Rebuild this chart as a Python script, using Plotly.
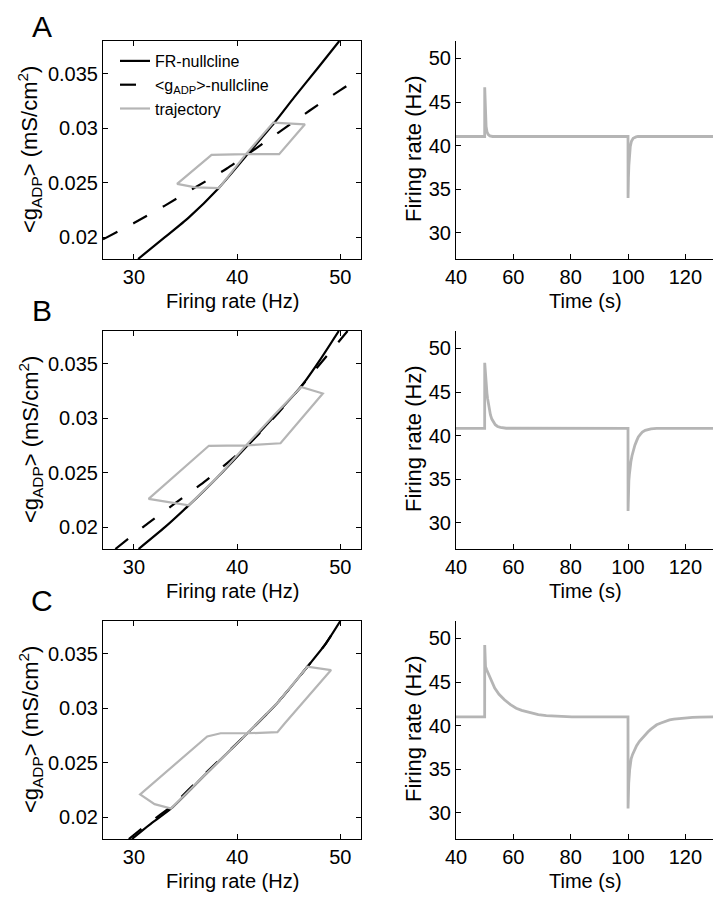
import plotly.graph_objects as go

# ---------------- data ----------------
# Panel A phase plane
A_fr_null_x = [30.4, 33.0, 35.3, 38.2, 41.0, 43.6, 45.5, 47.8, 49.9]
A_fr_null_y = [0.0180, 0.0200, 0.0218, 0.0245, 0.0276, 0.0305, 0.0328, 0.0355, 0.0380]
A_g_null_x = [27, 30, 33, 36, 39, 41, 44, 47, 50, 52]
A_g_null_y = [0.0198, 0.0213, 0.0229, 0.0246, 0.0263, 0.0276, 0.0296, 0.0316, 0.0335, 0.0347]
A_traj_x = [40.85, 44.07, 46.57, 43.5, 40.85, 37.52, 34.18, 35.96, 38.23, 40.85]
A_traj_y = [0.02762, 0.02762, 0.03036, 0.03052, 0.02762, 0.02756, 0.02489, 0.02458, 0.02450, 0.02762]

# Panel B phase plane
B_fr_null_x = [30.45, 33.0, 35.3, 38.0, 41.0, 44.0, 46.2, 48.0, 49.85]
B_fr_null_y = [0.0180, 0.0200, 0.0220, 0.0245, 0.0275, 0.0306, 0.0329, 0.0353, 0.0380]
B_g_null_x = [28.2, 31.0, 34.0, 37.0, 41.0, 44.0, 47.0, 50.7]
B_g_null_y = [0.0180, 0.0201, 0.0222, 0.0243, 0.0275, 0.0305, 0.0338, 0.0380]
B_traj_x = [40.85, 44.2, 48.3, 46.2, 43.5, 40.85, 37.26, 31.42, 35.3, 38.0, 40.85]
B_traj_y = [0.0275, 0.0277, 0.03227, 0.03287, 0.0302, 0.0275, 0.02747, 0.0226, 0.0220, 0.0245, 0.0275]

# Panel C phase plane
C_fr_null_x = [29.8, 31.5, 33.6, 37.0, 41.0, 44.0, 46.8, 48.5, 50.0]
C_fr_null_y = [0.0180, 0.0193, 0.0208, 0.0240, 0.0277, 0.0306, 0.0338, 0.0358, 0.0380]
C_g_null_x = [29.5, 31.5, 33.5, 37.0, 41.0, 44.0, 46.8, 48.5, 50.0]
C_g_null_y = [0.0180, 0.0195, 0.0209, 0.0241, 0.0277, 0.0306, 0.0338, 0.0358, 0.0380]
C_traj_x = [41.0, 43.9, 44.6, 49.1, 46.8, 44.0, 41.0, 38.4, 37.1, 30.6, 32.0, 33.6, 37.0, 41.0]
C_traj_y = [0.0277, 0.0278, 0.0286, 0.0335, 0.0338, 0.0306, 0.0277, 0.0277, 0.0274, 0.0221, 0.0212, 0.0208, 0.0240, 0.0277]

# Firing-rate time courses
A_t = [40, 50, 50.02, 50.15, 50.3, 50.5, 50.8, 51.2, 51.8, 52.8, 100, 100.02, 100.15, 100.3, 100.5, 100.8, 101.2, 101.8, 102.8, 103.5, 130]
A_fr = [41.05, 41.05, 46.7, 44.5, 43.1, 42.2, 41.6, 41.3, 41.12, 41.05, 41.05, 34.0, 36.3, 37.7, 38.9, 39.9, 40.5, 40.85, 41.0, 41.05, 41.05]

B_t = [40, 50, 50.02, 50.2, 50.4, 50.6, 50.8, 51.0, 51.3, 51.6, 52.0, 52.5, 53.0, 53.7, 54.5, 55.5, 57.5, 100, 100.02, 100.1, 100.3, 100.5, 100.7, 101.0, 101.4, 101.9, 102.4, 103.0, 103.6, 104.3, 105.0, 106, 107, 108, 110, 130]
B_fr = [40.83, 40.83, 48.35, 47.2, 46.2, 45.5, 44.85, 44.3, 43.6, 43.0, 42.4, 41.9, 41.55, 41.25, 41.05, 40.95, 40.85, 40.83, 31.35, 33.0, 34.8, 35.6, 36.3, 37.0, 37.7, 38.4, 38.9, 39.4, 39.85, 40.15, 40.4, 40.6, 40.72, 40.78, 40.83, 40.83]

C_t = [40, 50, 50.02, 50.3, 50.7, 51.2, 52.0, 53.5, 55.0, 56.9, 59.0, 61.0, 62.9, 65.5, 68.7, 71.5, 74.6, 80.4, 100, 100.02, 100.25, 100.6, 101.1, 101.6, 102.2, 103, 104, 105, 106, 107, 108, 109, 110, 111.5, 113, 114.5, 116, 118, 120, 122.5, 125, 130]
C_fr = [41.0, 41.0, 49.25, 46.76, 46.4, 46.0, 45.3, 44.3, 43.6, 42.96, 42.4, 42.0, 41.75, 41.5, 41.27, 41.15, 41.08, 41.0, 41.0, 30.5, 33.4, 35.0, 36.2, 36.7, 37.2, 37.7, 38.2, 38.6, 38.95, 39.3, 39.6, 39.85, 40.1, 40.3, 40.5, 40.65, 40.75, 40.83, 40.9, 40.95, 40.98, 41.0]

phase_xticks = [30, 40, 50]
phase_yticks = [0.02, 0.025, 0.03, 0.035]
phase_yticklabels = ["0.02", "0.025", "0.03", "0.035"]
time_xticks = [40, 60, 80, 100, 120]
time_yticks = [30, 35, 40, 45, 50]

panel_letters = ["A", "B", "C"]

# ---------------- figure ----------------
# The page body has an 8 px margin, so the figure is drawn 8 px smaller and
# every position below is given in page pixels and converted with OFF.
OFF = 8
W, H = 721 - OFF, 899 - OFF
FONT = "Liberation Sans, Arial, Helvetica, sans-serif"
GRAY = "#b5b5b5"


def fx(px):
    return (px - OFF) / W


def fy(py):
    return 1 - (py - OFF) / H


fig = go.Figure()

rows = [
    (A_fr_null_x, A_fr_null_y, A_g_null_x, A_g_null_y, A_traj_x, A_traj_y, A_t, A_fr),
    (B_fr_null_x, B_fr_null_y, B_g_null_x, B_g_null_y, B_traj_x, B_traj_y, B_t, B_fr),
    (C_fr_null_x, C_fr_null_y, C_g_null_x, C_g_null_y, C_traj_x, C_traj_y, C_t, C_fr),
]

row_tops = [41, 331, 621]
row_h = 218
left_x = (103, 361)
right_x = (456, 714)

annotations = []
for i, (fxs, fys, gx, gy, tx, ty, tt, tf) in enumerate(rows):
    lx = f"x{2*i+1}" if i > 0 else "x"
    ly = f"y{2*i+1}" if i > 0 else "y"
    rx = f"x{2*i+2}"
    ry = f"y{2*i+2}"
    show = (i == 0)
    fig.add_trace(go.Scatter(x=fxs, y=fys, mode="lines", xaxis=lx, yaxis=ly,
                             line=dict(color="black", width=2.2, shape="spline", smoothing=0.6),
                             name="FR-nullcline", showlegend=show))
    fig.add_trace(go.Scatter(x=gx, y=gy, mode="lines", xaxis=lx, yaxis=ly,
                             line=dict(color="black", width=2.2, dash="16px,18px", shape="spline", smoothing=0.6),
                             name="&lt;g<sub>ADP</sub>&gt;-nullcline", showlegend=show))
    fig.add_trace(go.Scatter(x=tx, y=ty, mode="lines", xaxis=lx, yaxis=ly,
                             line=dict(color=GRAY, width=2.2),
                             name="trajectory", showlegend=show))
    fig.add_trace(go.Scatter(x=tt, y=tf, mode="lines", xaxis=rx, yaxis=ry,
                             line=dict(color=GRAY, width=2.8),
                             showlegend=False))

    top = row_tops[i]
    ybot = top + row_h
    ydom = [fy(ybot), fy(top)]
    common = dict(showline=True, linecolor="black", linewidth=1, ticks="inside",
                  ticklen=5, tickcolor="black", tickwidth=1, showgrid=False,
                  zeroline=False, automargin=False,
                  tickfont=dict(size=20, color="black", family=FONT))
    lxa = "xaxis" if i == 0 else f"xaxis{2*i+1}"
    lya = "yaxis" if i == 0 else f"yaxis{2*i+1}"
    fig.layout[lxa] = dict(domain=[fx(left_x[0]), fx(left_x[1])], anchor=ly, range=[27, 52],
                           tickvals=phase_xticks, mirror="ticks", **common)
    fig.layout[lya] = dict(domain=ydom, anchor=lx, range=[0.018, 0.038],
                           tickvals=phase_yticks, ticktext=phase_yticklabels,
                           mirror="ticks", **common)
    fig.layout[f"xaxis{2*i+2}"] = dict(domain=[fx(right_x[0]), fx(right_x[1])], anchor=ry,
                                       range=[40, 130], tickvals=time_xticks, mirror=False, **common)
    fig.layout[f"yaxis{2*i+2}"] = dict(domain=ydom, anchor=rx, range=[27, 52],
                                       tickvals=time_yticks, mirror=False, **common)

    # axis titles and panel letters
    annotations.append(dict(text="Firing rate (Hz)", x=fx((left_x[0] + left_x[1]) / 2),
                            y=fy(ybot + 42), xref="paper", yref="paper",
                            showarrow=False, xanchor="center", yanchor="middle",
                            font=dict(size=20, family=FONT, color="black")))
    annotations.append(dict(text="Time (s)", x=fx((right_x[0] + right_x[1]) / 2),
                            y=fy(ybot + 42), xref="paper", yref="paper",
                            showarrow=False, xanchor="center", yanchor="middle",
                            font=dict(size=20, family=FONT, color="black")))
    annotations.append(dict(text="&lt;g<sub>ADP</sub>&gt; (mS/cm<sup>2</sup>)", x=fx(30),
                            y=fy(top + 109), xref="paper", yref="paper",
                            showarrow=False, xanchor="center", yanchor="middle", textangle=-90,
                            font=dict(size=22, family=FONT, color="black")))
    annotations.append(dict(text="Firing rate (Hz)", x=fx(413),
                            y=fy(top + 108), xref="paper", yref="paper",
                            showarrow=False, xanchor="center", yanchor="middle", textangle=-90,
                            font=dict(size=22, family=FONT, color="black")))
    annotations.append(dict(text=panel_letters[i], x=fx(42), y=fy(max(OFF, top - 39)),
                            xref="paper", yref="paper", showarrow=False,
                            xanchor="center", yanchor="top",
                            font=dict(size=30, family=FONT, color="black")))

fig.update_layout(
    template="none",
    width=W, height=H,
    margin=dict(l=0, r=0, t=0, b=0, pad=0),
    paper_bgcolor="white", plot_bgcolor="white",
    font=dict(family=FONT, color="black"),
    annotations=annotations,
    showlegend=True,
    legend=dict(x=fx(115), y=fy(44), xanchor="left", yanchor="top",
                bgcolor="rgba(0,0,0,0)", borderwidth=0,
                font=dict(size=16, family=FONT, color="black"),
                tracegroupgap=0, itemwidth=30),
)

fig.write_html("out.html")
